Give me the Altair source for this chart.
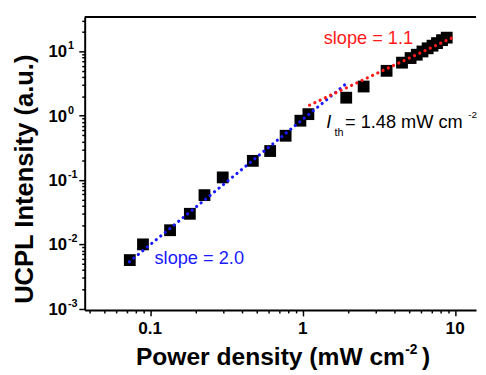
import altair as alt
import pandas as pd

# ---- data ----
power = [0.0735, 0.0897, 0.135, 0.182, 0.227, 0.299, 0.471, 0.612, 0.773, 0.966,
         1.09, 1.93, 2.51, 3.55, 4.48, 5.1, 5.6, 6.1, 6.6, 7.1, 7.6, 8.2, 8.8]
intensity = [0.0057, 0.0100, 0.0166, 0.0299, 0.0583, 0.110, 0.199, 0.283, 0.489, 0.838,
             1.06, 1.91, 2.85, 5.0, 6.7, 7.9, 8.9, 10.0, 11.2, 12.3, 13.5, 15.0, 16.4]

blue_fit_x = [0.073, 1.98]
blue_fit_y = [0.00536, 3.32]
red_fit_x = [1.11, 9.7]
red_fit_y = [1.46, 16.6]

x_major = [0.1, 1, 10]
x_major_labels = ["0.1", "1", "10"]
y_major = [0.001, 0.01, 0.1, 1, 10]
y_exp_labels = ["-3", "-2", "-1", "0", "1"]

x_domain = [0.0372, 13.7]
y_domain = [0.000955, 34.4]

W, H = 398, 298
FONT = "Liberation Sans"

# tick positions (major + minor)
x_ticks = [m * 10.0 ** k for k in range(-2, 2) for m in range(1, 10)
           if x_domain[0] <= m * 10.0 ** k <= 10]
y_ticks = [m * 10.0 ** k for k in range(-3, 2) for m in range(1, 10)
           if y_domain[0] <= m * 10.0 ** k <= y_domain[1]]

xs = alt.Scale(type="log", domain=x_domain, nice=False)
ys = alt.Scale(type="log", domain=y_domain, nice=False)

major_test = "abs(log(datum.value)/LN10 - round(log(datum.value)/LN10)) < 0.001"

XAX = alt.Axis(title="", labels=False, values=x_ticks, grid=False,
               domainColor="black", domainWidth=2, tickColor="black", tickWidth=1.5,
               tickSize={"condition": {"test": major_test, "value": 6}, "value": 3})
YAX = alt.Axis(title="", labels=False, values=y_ticks, grid=False,
               domainColor="black", domainWidth=2, tickColor="black", tickWidth=1.5,
               tickSize={"condition": {"test": major_test, "value": 6}, "value": 3})


def X(field="p"):
    return alt.X(f"{field}:Q", scale=xs, axis=XAX, title="")


def Y(field="i"):
    return alt.Y(f"{field}:Q", scale=ys, axis=YAX, title="")


pts = pd.DataFrame({"p": power, "i": intensity})
points = alt.Chart(pts).mark_square(size=144, color="black", opacity=1).encode(x=X(), y=Y())

blue = alt.Chart(pd.DataFrame({"p": blue_fit_x, "i": blue_fit_y})).mark_line(
    color="#1a1aff", strokeWidth=3.2, strokeDash=[0.1, 5.8], strokeCap="round"
).encode(x=X(), y=Y())

red = alt.Chart(pd.DataFrame({"p": red_fit_x, "i": red_fit_y})).mark_line(
    color="#ff1a1a", strokeWidth=3.2, strokeDash=[0.1, 5.8], strokeCap="round"
).encode(x=X(), y=Y())

top_border = alt.Chart(pd.DataFrame({"a": [0]})).mark_rule(color="black", strokeWidth=2).encode(
    x=alt.value(0), x2=alt.value(W), y=alt.value(0))

# y tick labels: 10 with superscript exponent
ylab = pd.DataFrame({"i": y_major, "e": y_exp_labels, "b": ["10"] * len(y_major)})
ybase = alt.Chart(ylab).mark_text(font=FONT, fontSize=17, fontWeight="bold", align="right",
                                  baseline="middle", dy=1, color="black").encode(
    x=alt.value(-18), y=Y(), text="b:N")
yexp = alt.Chart(ylab).mark_text(font=FONT, fontSize=11, fontWeight="bold", align="left",
                                 baseline="alphabetic", dy=-2, color="black").encode(
    x=alt.value(-17), y=Y(), text="e:N")

xlab = pd.DataFrame({"p": x_major, "t": x_major_labels})
xlabels = alt.Chart(xlab).mark_text(font=FONT, fontSize=17.5, fontWeight="bold", align="center",
                                    baseline="alphabetic", color="black").encode(
    x=X(), y=alt.value(322.7), text="t:N")


def txt(s, x, y, size, color="black", weight="normal", style="normal", align="left", angle=0,
        baseline="alphabetic"):
    return alt.Chart(pd.DataFrame({"t": [s]})).mark_text(
        font=FONT, fontSize=size, fontWeight=weight, fontStyle=style, align=align,
        baseline=baseline, angle=angle, color=color).encode(
        x=alt.value(x), y=alt.value(y), text="t:N")


texts = [
    txt("UCPL Intensity (a.u.)", -61, 165, 26, weight="bold", align="center", angle=270, baseline="middle"),
    txt("Power density (mW cm", 325.7, 354, 25, weight="bold", align="right"),
    txt("-2", 326, 342.7, 14, weight="bold"),
    txt(")", 343, 354, 25, weight="bold"),
    txt("slope = 2.0", 71, 251, 18.5, color="#1a1aff"),
    txt("slope = 1.1", 243, 27, 18.5, color="#ff1a1a"),
    txt("I", 245.7, 113.3, 18.5, style="italic"),
    txt("th", 254, 121.5, 11),
    txt("= 1.48 mW cm", 264.7, 113.3, 18.5),
    txt("-2", 390, 103, 10),
]

chart = alt.layer(points, blue, red, top_border, ybase, yexp, xlabels, *texts).properties(
    width=W, height=H,
    autosize=alt.AutoSizeParams(type="none"),
    padding={"left": 78, "top": 6, "right": 2, "bottom": 62},
    background="white",
).configure_view(strokeWidth=0)

chart.save("out.html", embed_options={"renderer": "svg", "actions": False})
